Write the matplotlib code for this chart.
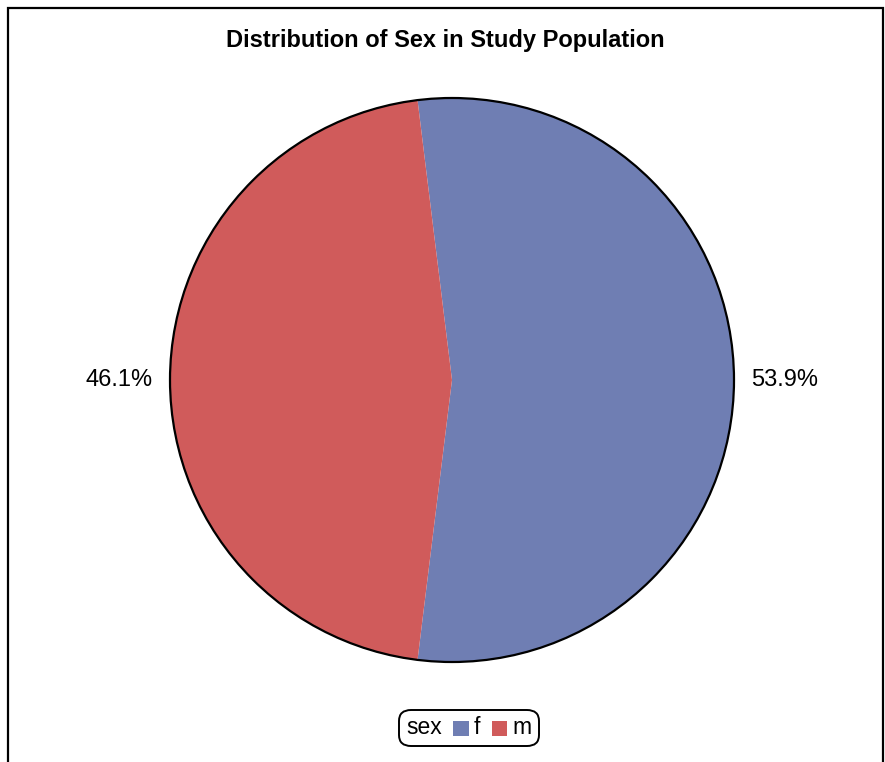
import matplotlib.pyplot as plt
from matplotlib.patches import Circle, Rectangle
from matplotlib.offsetbox import AnchoredOffsetbox, HPacker, TextArea, DrawingArea

plt.rcParams['font.family'] = ['Liberation Sans', 'DejaVu Sans']

# Data
categories = ["f", "m"]
shares = [53.9, 46.1]
colors = ["#6F7EB3", "#D05B5B"]

W, H = 885, 762
fig = plt.figure(figsize=(W / 100, H / 100), dpi=100)

# outer frame (bottom edge runs off the image)
fig.add_artist(Rectangle((8 / W, -0.02), (883 - 8) / W, 1.02 - 8 / H,
                         transform=fig.transFigure, fill=False,
                         edgecolor="black", linewidth=1.6))

fig.text(445 / W, 1 - 41 / H, "Distribution of Sex in Study Population",
         ha="center", va="center", fontsize=17, fontweight="bold")

# pie axes: center (452, 380) px, radius 282 px
r_px = 282
lim = 1.3
half = r_px * lim
ax = fig.add_axes([(452 - half) / W, (H - 380 - half) / H, 2 * half / W, 2 * half / H])
ax.axis("off")

# first slice centred on the right-hand side, drawn clockwise
start = shares[0] / 100 * 180
wedges, texts, autotexts = ax.pie(
    shares, colors=colors, startangle=start, counterclock=False,
    autopct="%.1f%%", pctdistance=1.18, radius=1,
    wedgeprops=dict(linewidth=0), textprops=dict(fontsize=17))
ax.set_xlim(-lim, lim)
ax.set_ylim(-lim, lim)
ax.add_patch(Circle((0, 0), 1, fill=False, edgecolor="black", linewidth=1.6))

# legend: "sex  [] f  [] m"
items = [TextArea("sex", textprops=dict(fontsize=16.5))]
for cat, col in zip(categories, colors):
    da = DrawingArea(12, 14, 0, 0)
    da.add_artist(Rectangle((0, 1), 11, 11, facecolor=col, edgecolor="none"))
    items.append(HPacker(children=[da, TextArea(cat, textprops=dict(fontsize=16.5))],
                         pad=0, sep=3, align="center"))
box = HPacker(children=items, pad=0, sep=8, align="center")
leg = AnchoredOffsetbox(loc="center", child=box, pad=0.3, borderpad=0,
                        frameon=True, bbox_to_anchor=(469 / W, 34 / H),
                        bbox_transform=fig.transFigure)
leg.patch.set_boxstyle("round,pad=0.2,rounding_size=0.8")
leg.patch.set_edgecolor("black")
leg.patch.set_linewidth(1.4)
fig.add_artist(leg)

fig.savefig("out.png", dpi=100)
